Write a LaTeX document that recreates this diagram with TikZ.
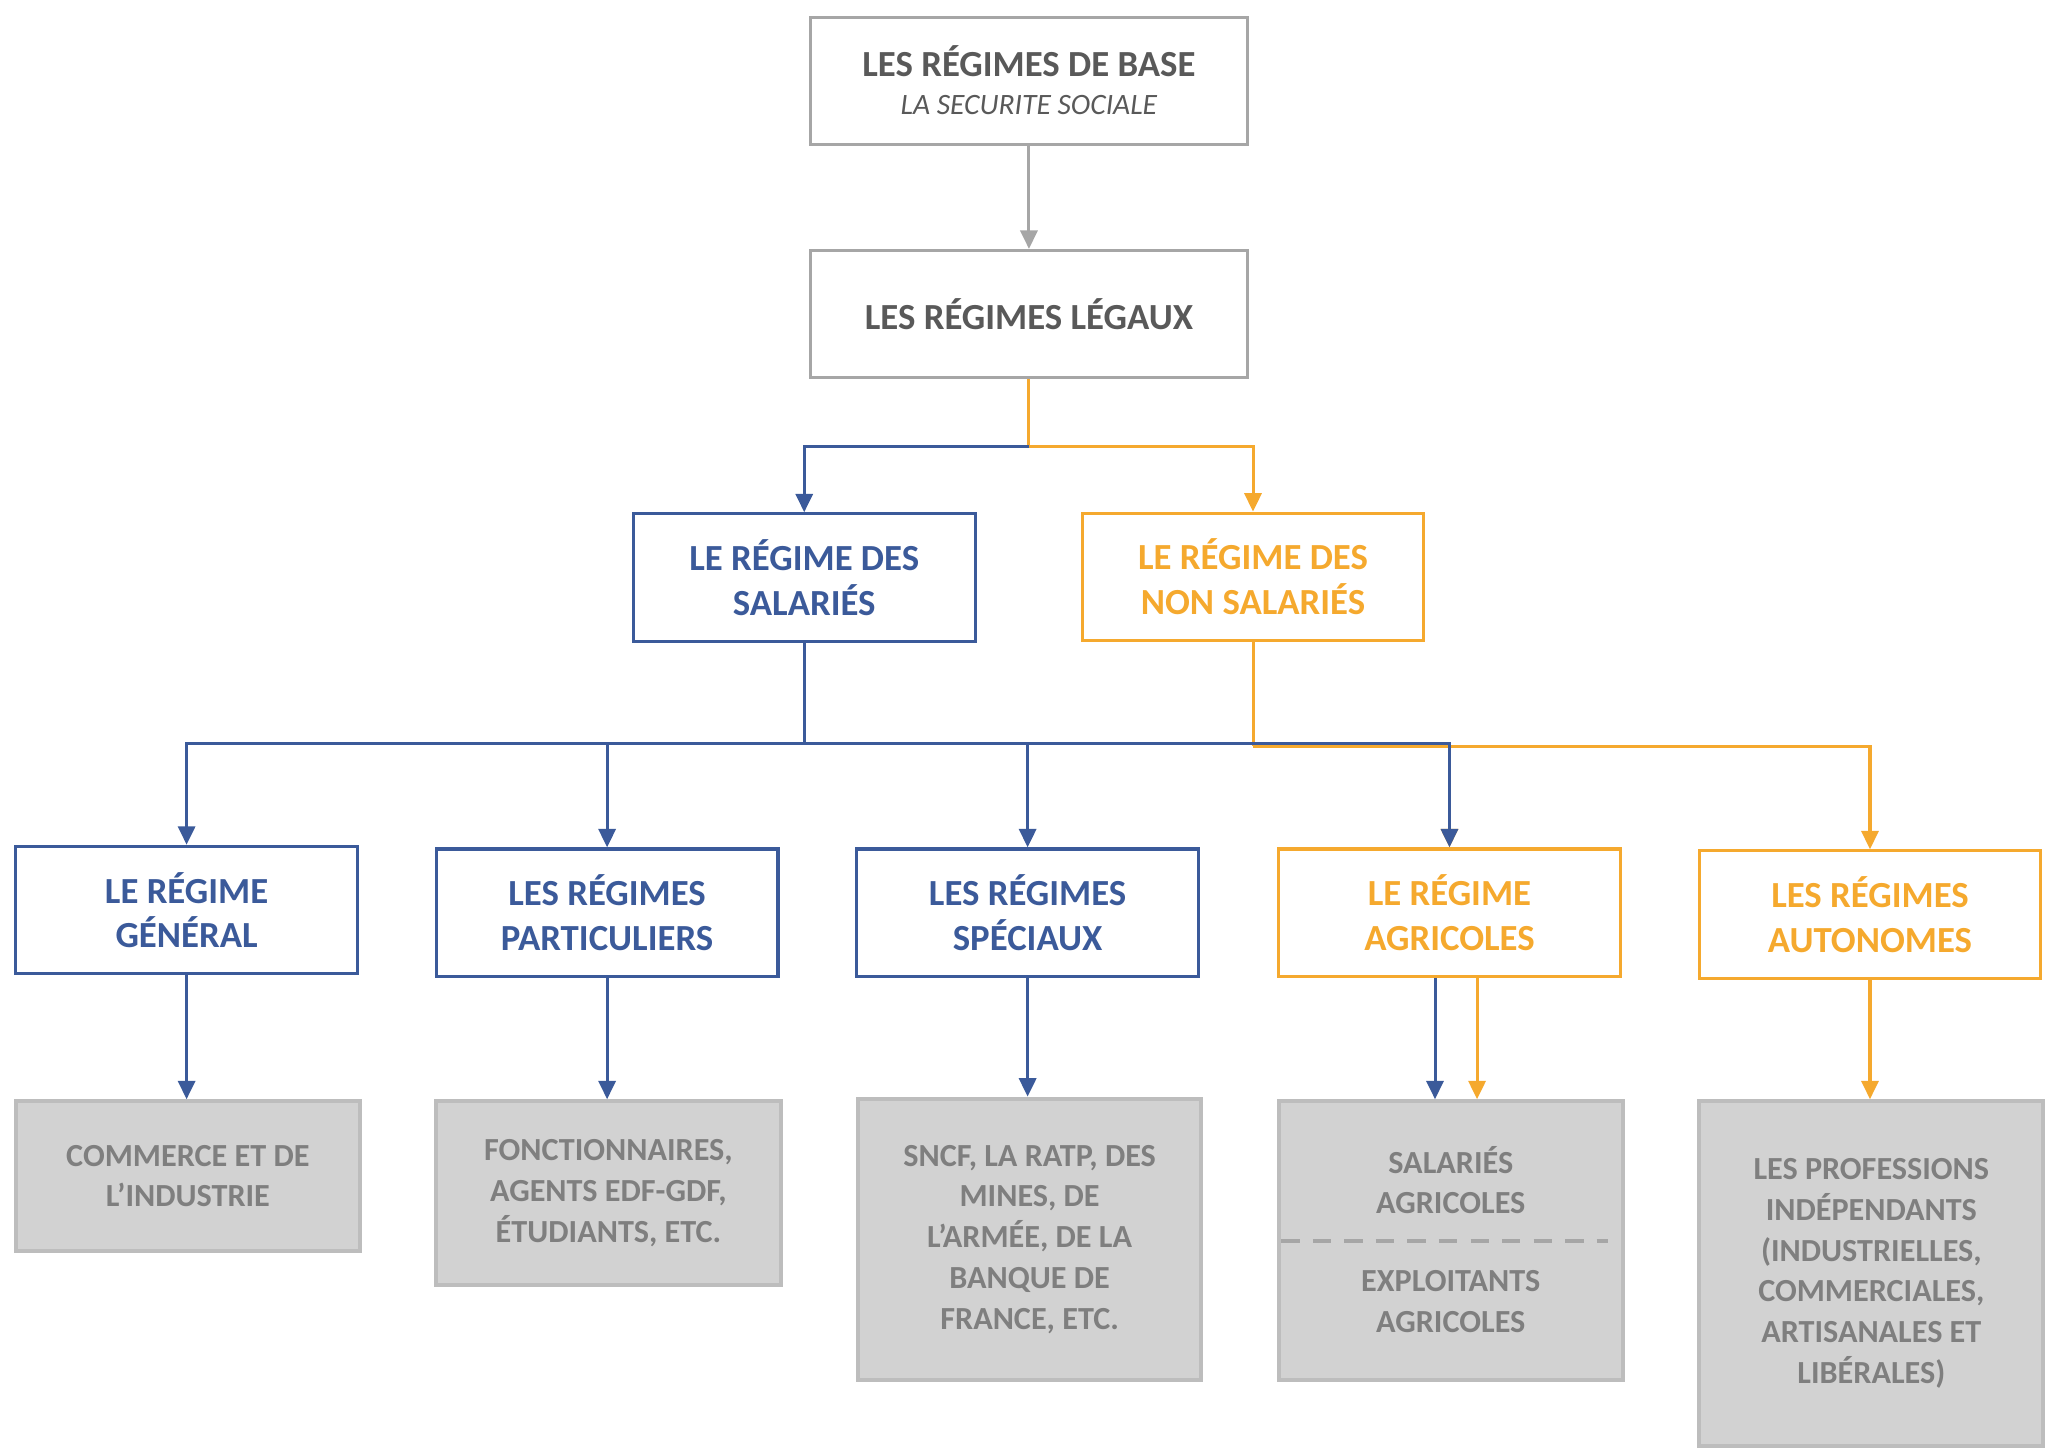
\documentclass[tikz,border=0pt]{standalone}
\usepackage{fontspec}
\setmainfont{Carlito}
\usetikzlibrary{arrows.meta}
\definecolor{cblue}{HTML}{3B5A9A}
\definecolor{corange}{HTML}{F5A92E}
\definecolor{cgrayline}{HTML}{A6A6A6}
\definecolor{ctext}{HTML}{595959}
\definecolor{cleaf}{HTML}{D2D2D2}
\definecolor{cleafline}{HTML}{BDBDBD}
\definecolor{cleaftext}{HTML}{7F7F7F}
\begin{document}
\begin{tikzpicture}[x=1pt,y=-1pt,
  topbox/.style={draw=cgrayline, line width=2.2pt, minimum width=332pt, minimum height=97pt, inner sep=0pt, align=center, text=ctext},
  midbox/.style={line width=2.4pt, minimum width=260pt, minimum height=97pt, inner sep=0pt, align=center, font=\fontsize{28}{34}\selectfont\bfseries},
  bluebox/.style={midbox, draw=cblue, text=cblue},
  orangebox/.style={midbox, draw=corange, text=corange},
  leafbox/.style={draw=cleafline, fill=cleaf, line width=3pt, minimum width=262pt, inner sep=0pt, align=center, text=cleaftext, font=\fontsize{24.5}{31}\selectfont\bfseries},
  leaftext/.style={inner sep=0pt, align=center, text=cleaftext, font=\fontsize{24.5}{31}\selectfont\bfseries},
  link/.style={line width=2.3pt},
  arr/.style={line width=2.3pt, -{Triangle[width=13pt,length=14pt]}}]
\useasboundingbox (0,0) rectangle (1560,1103);

% top boxes
\node[topbox] (base) at (783,61.5) {};
\node[inner sep=0pt, text=ctext, font=\fontsize{28}{34}\selectfont\bfseries, anchor=base] (baset1) at (783,58) {LES RÉGIMES DE BASE};
\node[inner sep=0pt, text=ctext, font=\fontsize{22.5}{27}\selectfont\itshape, anchor=base] (baset2) at (783,87) {LA SECURITE SOCIALE};
\node[topbox, font=\fontsize{28}{34}\selectfont\bfseries] (legaux) at (783,239) {LES RÉGIMES LÉGAUX};

% second level
\node[bluebox] (sal) at (612,439.5) {LE RÉGIME DES\\SALARIÉS};
\node[orangebox] (nsal) at (953.5,439) {LE RÉGIME DES\\NON SALARIÉS};

% third level
\node[bluebox] (gen) at (142,692.5) {LE RÉGIME\\GÉNÉRAL};
\node[bluebox] (part) at (462,694.5) {LES RÉGIMES\\PARTICULIERS};
\node[bluebox] (spec) at (782,694.5) {LES RÉGIMES\\SPÉCIAUX};
\node[orangebox] (agr) at (1103,694.5) {LE RÉGIME\\AGRICOLES};
\node[orangebox] (auto) at (1423,696) {LES RÉGIMES\\AUTONOMES};

% leaves
\node[leafbox, minimum height=114pt] (b1) at (143,895) {COMMERCE ET DE\\L’INDUSTRIE};
\node[leafbox, minimum height=140pt] (b2) at (463,908) {FONCTIONNAIRES,\\AGENTS EDF-GDF,\\ÉTUDIANTS, ETC.};
\node[leafbox, minimum height=214pt, minimum width=261pt] (b3) at (783.5,943) {SNCF, LA RATP, DES\\MINES, DE\\L’ARMÉE, DE LA\\BANQUE DE\\FRANCE, ETC.};
\node[leafbox, minimum height=212pt] (b4) at (1104,944) {};
\node[leaftext] (b4a) at (1104,898) {SALARIÉS\\AGRICOLES};
\node[leaftext] (b4b) at (1104,990.5) {EXPLOITANTS\\AGRICOLES};
\node[leafbox, minimum height=262pt] (b5) at (1424,969) {LES PROFESSIONS\\INDÉPENDANTS\\(INDUSTRIELLES,\\COMMERCIALES,\\ARTISANALES ET\\LIBÉRALES)};
\coordinate (d1) at (975,944);
\coordinate (d2) at (1224,944);
\draw[cgrayline, line width=3pt, dash pattern=on 14pt off 10pt] (d1) -- (d2);

% connectors
\draw[arr, cgrayline] (base) -- (legaux);
\coordinate (j1) at (783,340);
\draw[link, corange] (legaux.south) -- (j1);
\draw[arr, corange] (j1) -| (nsal.north);
\draw[arr, cblue] (j1) -| (sal.north);

\coordinate (j3) at (953.5,568);
\draw[link, corange] (nsal.south) -- (j3);
\draw[arr, corange] (j3) -| (auto.north);
\draw[arr, corange] (j3) -| (agr.north);

\coordinate (j2) at (612,566);
\draw[link, cblue] (sal.south) -- (j2);
\draw[arr, cblue] (j2) -| (gen.north);
\draw[arr, cblue] (j2) -| (part.north);
\draw[arr, cblue] (j2) -| (spec.north);
\draw[arr, cblue] (j2) -| (agr.north);

\draw[arr, cblue] (gen.south) -- (gen.south |- b1.north);
\draw[arr, cblue] (part.south) -- (part.south |- b2.north);
\draw[arr, cblue] (spec.south) -- (spec.south |- b3.north);
\draw[arr, cblue] ([xshift=-11pt]agr.south) -- ([xshift=-11pt]agr.south |- b4.north);
\draw[arr, corange] ([xshift=21pt]agr.south) -- ([xshift=21pt]agr.south |- b4.north);
\draw[arr, corange] (auto.south) -- (auto.south |- b5.north);
\end{tikzpicture}
\end{document}
